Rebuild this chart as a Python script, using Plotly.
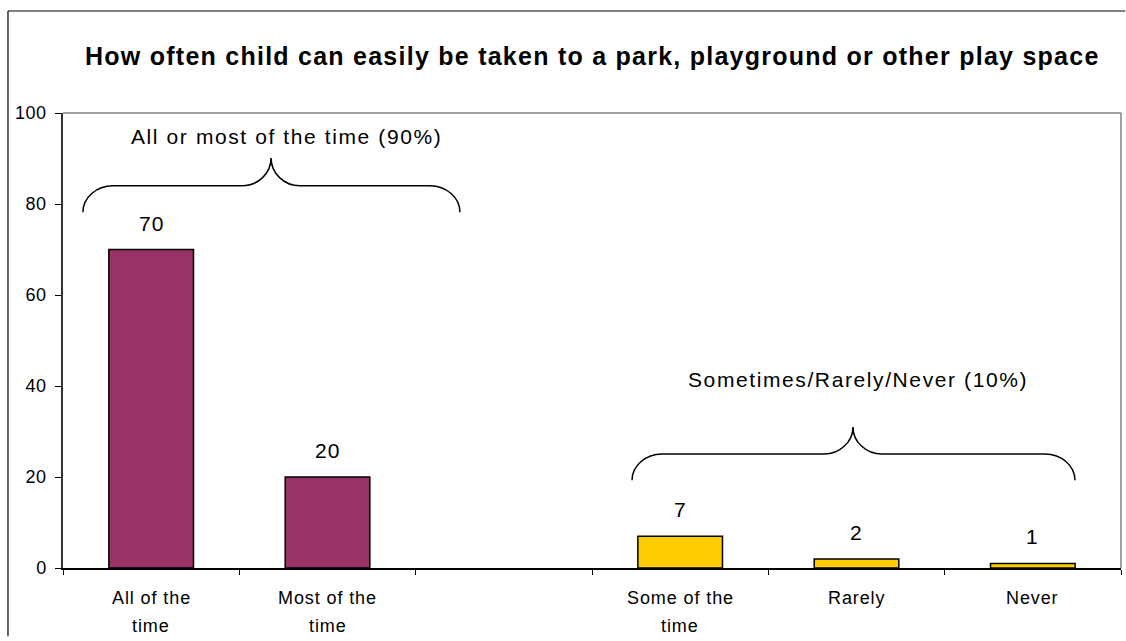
import plotly.graph_objects as go

# Survey responses (percent of parents)
categories = ["All of the time", "Most of the time", "", "Some of the time", "Rarely", "Never"]
category_lines = [["All of the", "time"], ["Most of the", "time"], [], ["Some of the", "time"], ["Rarely"], ["Never"]]
often_values = [70, 20, None, None, None, None]
seldom_values = [None, None, None, 7, 2, 1]
y_ticks = [0, 20, 40, 60, 80, 100]

group_labels = ["All or most of the time (90%)", "Sometimes/Rarely/Never (10%)"]
title_text = "How often child can easily be taken to a park, playground or other play space"

PURPLE = "#993366"
YELLOW = "#FFCC00"
FONT = "Liberation Sans, Arial, Helvetica, sans-serif"


def spaced(text, px):
    return f"<span style='letter-spacing:{px}px'>{text}</span>"


x_pos = list(range(len(categories)))

fig = go.Figure()
fig.add_trace(go.Bar(x=x_pos, y=often_values, width=0.48, offsetgroup=0,
                     marker=dict(color=PURPLE, line=dict(color="black", width=1.5)),
                     hoverinfo="skip", showlegend=False))
fig.add_trace(go.Bar(x=x_pos, y=seldom_values, width=0.48, offsetgroup=0,
                     marker=dict(color=YELLOW, line=dict(color="black", width=1.5)),
                     hoverinfo="skip", showlegend=False))

annotations = []
# value labels above bars
for xi, a, b in zip(x_pos, often_values, seldom_values):
    v = a if a is not None else b
    if v is None:
        continue
    annotations.append(dict(x=xi, y=v, xref="x", yref="y", text=spaced(str(v), 1), showarrow=False,
                            yanchor="bottom", yshift=13, font=dict(size=21, color="black", family=FONT)))

# category labels under the axis, two lines each
for xi, lines in zip(x_pos, category_lines):
    for k, line in enumerate(lines):
        annotations.append(dict(x=xi, y=0, xref="x", yref="paper", text=spaced(line, 0.9), showarrow=False,
                                yanchor="middle", yshift=-30 - 28 * k, font=dict(size=18, color="black", family=FONT)))


def brace_path(x0, x1, xm, y_end, y_mid, y_top, sw, sw2):
    k = 0.55
    return (
        f"M {x0},{y_end} "
        f"C {x0},{y_end + k * (y_mid - y_end)} {x0 + sw * (1 - k)},{y_mid} {x0 + sw},{y_mid} "
        f"L {xm - sw2},{y_mid} "
        f"C {xm - sw2 * (1 - k)},{y_mid} {xm},{y_top - k * (y_top - y_mid)} {xm},{y_top} "
        f"C {xm},{y_top - k * (y_top - y_mid)} {xm + sw2 * (1 - k)},{y_mid} {xm + sw2},{y_mid} "
        f"L {x1 - sw},{y_mid} "
        f"C {x1 - sw * (1 - k)},{y_mid} {x1},{y_end + k * (y_mid - y_end)} {x1},{y_end}"
    )


braces = [
    dict(x0=-0.387, x1=1.751, xm=0.68, y_end=78.2, y_mid=84.0, y_top=90.1, label_x=0.77, label_y=94.9),
    dict(x0=2.727, x1=5.239, xm=3.98, y_end=19.3, y_mid=25.05, y_top=31.0, label_x=4.008, label_y=41.5),
]

shapes = []
for b, label in zip(braces, group_labels):
    shapes.append(dict(type="path", xref="x", yref="y",
                       path=brace_path(b["x0"], b["x1"], b["xm"], b["y_end"], b["y_mid"], b["y_top"], 0.17, 0.164),
                       line=dict(color="black", width=1.5)))
    annotations.append(dict(x=b["label_x"], y=b["label_y"], xref="x", yref="y", text=spaced(label, 1.6),
                            showarrow=False, font=dict(size=21, color="black", family=FONT)))

# plot area border: top and right edges in grey
shapes.append(dict(type="line", xref="paper", yref="paper", x0=0, x1=1, y0=1, y1=1,
                   line=dict(color="#808080", width=1.5)))
shapes.append(dict(type="line", xref="paper", yref="paper", x0=1, x1=1, y0=0, y1=1,
                   line=dict(color="#808080", width=1.5)))
# outer chart frame: left and top edges, running to the page edge
shapes.append(dict(type="line", xref="paper", yref="paper", x0=-0.0520, x1=-0.0520, y0=-0.15, y1=1.2242,
                   line=dict(color="black", width=1.2)))
shapes.append(dict(type="line", xref="paper", yref="paper", x0=-0.0520, x1=1.004, y0=1.2242, y1=1.2242,
                   line=dict(color="black", width=1.2)))

annotations.append(dict(x=0.5, y=1.125, xref="paper", yref="paper", xanchor="center", yanchor="middle",
                        text=spaced(f"<b>{title_text}</b>", 1.25), showarrow=False,
                        font=dict(size=25, color="black", family=FONT)))

fig.update_layout(
    width=1126, height=641,
    margin=dict(l=63, r=5, t=113, b=73),
    paper_bgcolor="white", plot_bgcolor="white",
    barmode="overlay",
    xaxis=dict(range=[-0.5, 5.5], showgrid=False, zeroline=False, showticklabels=False,
               ticks="", showline=True, linecolor="black", linewidth=1.5, fixedrange=True,
               minor=dict(tickvals=[i - 0.5 for i in range(len(categories) + 1)], ticks="outside",
                          ticklen=5, tickcolor="black", tickwidth=1)),
    yaxis=dict(range=[0, 100], tickvals=y_ticks, ticktext=[spaced(str(t), 0.5) for t in y_ticks],
               showgrid=False, zeroline=False, showline=True, linecolor="#333333", linewidth=1.5,
               ticks="outside", ticklen=6, tickcolor="black", tickwidth=1, ticklabelstandoff=5,
               tickfont=dict(size=18, color="black", family=FONT), fixedrange=True),
    annotations=annotations,
    shapes=shapes,
)

fig.write_html("out.html")
